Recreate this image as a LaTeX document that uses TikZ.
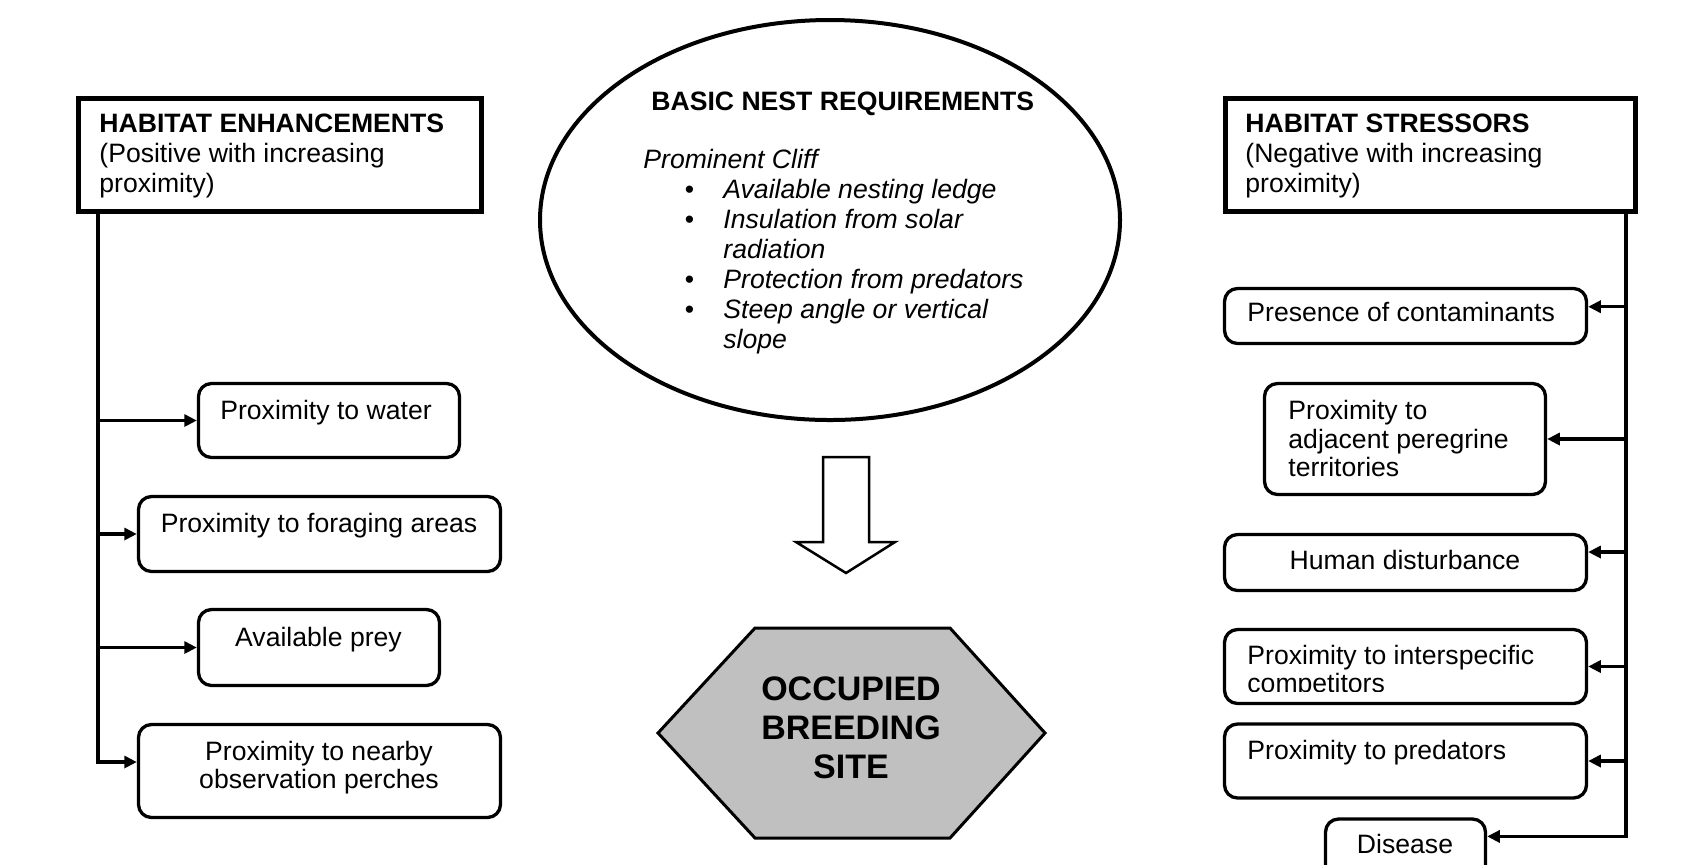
\documentclass[tikz,border=0pt]{standalone}
\usepackage{fontspec}
\setmainfont{Liberation Sans}
\usetikzlibrary{arrows.meta,shapes.geometric}
\definecolor{hexgray}{HTML}{C0C0C0}
\newcommand{\bitem}{\makebox[40pt][l]{\hspace*{20.7pt}{\upshape\textbullet}}}
\newcommand{\bcont}{\hspace*{40pt}}
\begin{document}
\begin{tikzpicture}[x=0.5pt, y=-0.5pt,
  hdr/.style={draw, line width=2.75pt, inner sep=0pt},
  rbox/.style={draw, line width=1.65pt, rounded corners=6.5pt, inner sep=0pt},
  txt/.style={inner sep=0pt, font=\fontsize{13.3pt}{15pt}\selectfont, align=left},
  conn/.style={line width=1.75pt},
  arr/.style={conn, -{Triangle[length=6.3pt,width=6pt]}},
  nestshape/.style={draw, ellipse, line width=2pt, inner sep=0pt},
  bigarrow/.style={line width=1.25pt, fill=white, line join=miter},
  hexshape/.style={line width=1.5pt, fill=hexgray, draw=black}
]
\useasboundingbox (0,0) rectangle (1690,864);

% headers
\node[hdr, minimum width=201.5pt, minimum height=56.5pt] (henh) at (280,155) {};
\node[txt, anchor=base west] (henhT) at (99,192.5) {\textbf{HABITAT ENHANCEMENTS}\\(Positive with increasing\\proximity)};
\node[hdr, minimum width=205pt, minimum height=56.5pt] (hstr) at (1430.5,155) {};
\node[txt, anchor=base west] (hstrT) at (1245,192.5) {\textbf{HABITAT STRESSORS}\\(Negative with increasing\\proximity)};

% left boxes
\node[rbox, minimum width=130.5pt, minimum height=37pt] (water) at (329,420.5) {};
\node[txt, anchor=base] (waterT) at (326,419) {Proximity to water};
\node[rbox, minimum width=181pt, minimum height=37.5pt] (forag) at (319.5,534) {};
\node[txt, anchor=base] (foragT) at (319,532) {Proximity to foraging areas};
\node[rbox, minimum width=120.5pt, minimum height=38pt] (prey) at (319,647.5) {};
\node[txt, anchor=base] (preyT) at (318.5,646) {Available prey};
\node[rbox, minimum width=181pt, minimum height=46.5pt] (perch) at (319.5,771) {};
\node[txt, anchor=base, align=center, font=\fontsize{13.3pt}{14pt}\selectfont] (perchT) at (319,788) {Proximity to nearby\\observation perches};

% right boxes
\node[rbox, minimum width=181pt, minimum height=27.5pt] (contam) at (1405.5,316) {};
\node[txt, anchor=base west] (contamT) at (1247,321) {Presence of contaminants};
\node[rbox, minimum width=140.5pt, minimum height=55.5pt] (pereg) at (1405,439) {};
\node[txt, anchor=base west, font=\fontsize{13.3pt}{14.2pt}\selectfont] (peregT) at (1288,476.5) {Proximity to\\adjacent peregrine\\territories};
\node[rbox, minimum width=181pt, minimum height=28pt] (human) at (1405.5,562.5) {};
\node[txt, anchor=base] (humanT) at (1405,569) {Human disturbance};
\node[rbox, minimum width=181pt, minimum height=37pt] (inter) at (1405.5,666.5) {};
\begin{scope}
  \clip (1200,630) rectangle (1600,691);
  \node[txt, anchor=base west, font=\fontsize{13.3pt}{14.2pt}\selectfont] (interT) at (1247,692.4) {Proximity to interspecific\\competitors};
\end{scope}
\node[rbox, minimum width=181pt, minimum height=37pt] (pred) at (1405.5,761) {};
\node[txt, anchor=base west] (predT) at (1247,759) {Proximity to predators};
\node[rbox, minimum width=80pt, minimum height=60pt] (dis) at (1405.5,879) {};
\node[txt, anchor=base] (disT) at (1405,853) {Disease};

% left connectors
\coordinate (lb) at (98,0);
\coordinate (perchA) at ([yshift=4.5pt]perch.west);
\draw[arr] (henh.south -| lb) |- (perchA);
\draw[arr] (lb |- water.west) -- (water.west);
\draw[arr] (lb |- forag.west) -- (forag.west);
\draw[arr] (lb |- prey.west) -- (prey.west);

% right connectors
\coordinate (rb) at (1626,0);
\coordinate (contamA) at ([yshift=4.65pt]contam.east);
\coordinate (humanA) at ([yshift=5.25pt]human.east);
\coordinate (disA) at ([yshift=21.3pt]dis.east);
\draw[arr] (hstr.south -| rb) |- (disA);
\draw[arr] (contamA -| rb) -- (contamA);
\draw[arr] (rb |- pereg.east) -- (pereg.east);
\draw[arr] (humanA -| rb) -- (humanA);
\draw[arr] (rb |- inter.east) -- (inter.east);
\draw[arr] (rb |- pred.east) -- (pred.east);

% ellipse
\node[nestshape, minimum width=290pt, minimum height=200pt] (nest) at (830,220) {};
\node[txt, anchor=base west, font=\bfseries\fontsize{13.3pt}{15pt}\selectfont] (nestH) at (651,110) {BASIC NEST REQUIREMENTS};
\node[txt, anchor=base west, font=\itshape\fontsize{13.3pt}{15pt}\selectfont] (nestL) at (643,348) {Prominent Cliff\\
\bitem Available nesting ledge\\
\bitem Insulation from solar\\
\bcont radiation\\
\bitem Protection from predators\\
\bitem Steep angle or vertical\\
\bcont slope};

% block arrow
\draw[bigarrow] (823,457) -- (869,457) -- (869,542) -- (895,542) -- (846,573) -- (796,542) -- (823,542) -- cycle;

% hexagon
\draw[hexshape] (755,628) -- (950,628) -- (1045,733) -- (950,838) -- (755,838) -- (658,733) -- cycle;
\node[inner sep=0pt, font=\bfseries\fontsize{17pt}{19.5pt}\selectfont, align=center, anchor=base] (occ) at (851,778) {OCCUPIED\\BREEDING\\SITE};
\end{tikzpicture}
\end{document}
